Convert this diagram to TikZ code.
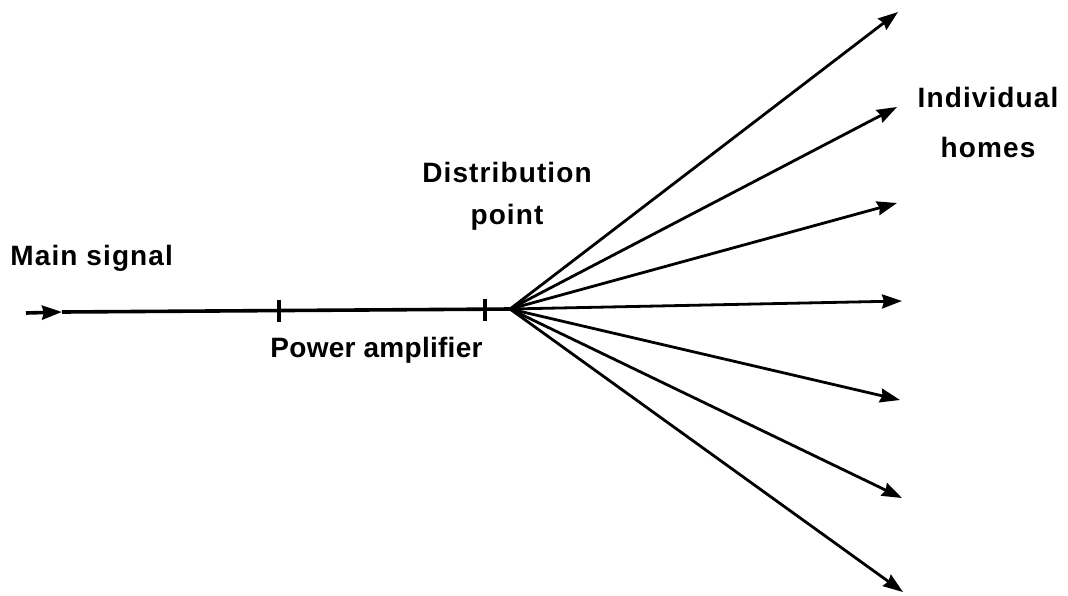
\documentclass[tikz,border=0pt]{standalone}
\usepackage{fontspec}
\setmainfont{Liberation Sans}
\usepackage{tikz}
\usetikzlibrary{arrows.meta, positioning}

\begin{document}
\begin{tikzpicture}[
    x=0.5pt, y=-0.5pt,
    lbl/.style={font=\fontsize{14}{17}\selectfont\bfseries\addfontfeature{LetterSpace=#1}, align=center, inner sep=0pt},
    lbl/.default=4,
    arr/.style={-{Stealth[length=10pt, width=7pt, inset=1pt]}, line width=1.4pt, color=black},
    feed/.style={line width=1.8pt, color=black},
    tickmark/.style={line width=1.6pt, color=black}
]
\useasboundingbox (0,0) rectangle (1068,595);

% Main line
\coordinate (src) at (26,313);
\coordinate (entry) at (62,312);
\coordinate (amp) at (279,311);
\coordinate (pre) at (485,310);
\coordinate (hub) at (510,309);

\draw[arr, line width=1.8pt] (src) -- (entry);
\draw[feed] (entry) -- (hub);

% Ticks
\draw[tickmark] (amp) ++(0,-11) -- ++(0,22);
\draw[tickmark] (pre) ++(0,-11) -- ++(0,22);

% Homes
\coordinate (h1) at (898,12);
\coordinate (h2) at (897,107);
\coordinate (h3) at (897,203);
\coordinate (h4) at (902,301);
\coordinate (h5) at (900,400);
\coordinate (h6) at (902,498);
\coordinate (h7) at (903,592);

\draw[arr] (hub) -- (h1);
\draw[arr] (hub) -- (h2);
\draw[arr] (hub) -- (h3);
\draw[arr] (hub) -- (h4);
\draw[arr] (hub) -- (h5);
\draw[arr] (hub) -- (h6);
\draw[arr] (hub) -- (h7);

% Labels
\node[lbl, anchor=west] (mainlbl) at (10,258) {Main signal};
\node[lbl=1, anchor=west] (amplbl) at (270,350) {Power amplifier};
\node[lbl] (distlbl) at (507,196) {Distribution\\[4pt]point};
\node[lbl] (homelbl) at (988,122) {Individual\\[8pt]homes};

\end{tikzpicture}
\end{document}
